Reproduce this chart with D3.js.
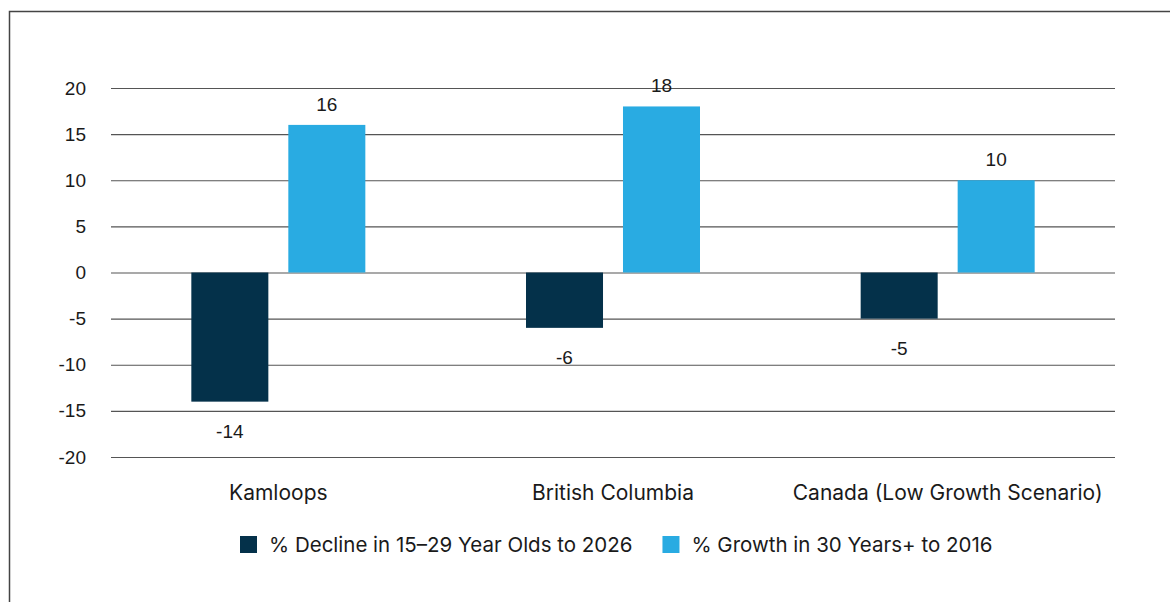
<!DOCTYPE html>
<html>
<head>
<meta charset="utf-8">
<script src="https://cdn.jsdelivr.net/npm/d3@7"></script>
<style>
  body { margin: 0; background: #fff; }
  text { fill: #1a1a1a; }
  .num { font-family: "Liberation Sans", Arial, sans-serif; font-size: 19px; }
  .lbl { font-family: Inter, Roboto, sans-serif; font-size: 20.5px; }
  .cat { font-size: 21px; }
</style>
</head>
<body>
<div id="chart"></div>
<script>
// Data
let categories = ['Kamloops', 'British Columbia', 'Canada (Low Growth Scenario)'];
let seriesNames = ['% Decline in 15\u201329 Year Olds to 2026', '% Growth in 30 Years+ to 2016'];
let declineValues = [-14, -6, -5];
let growthValues = [16, 18, 10];
let yTicks = [-20, -15, -10, -5, 0, 5, 10, 15, 20];

let svgWidth = 1170;
let svgHeight = 602;
let margins = { top: 88, bottom: 145, left: 111, right: 55 };
let chartWidth = svgWidth - margins.left - margins.right;
let chartHeight = svgHeight - margins.top - margins.bottom;
let colors = ['#04314a', '#29abe2'];

let svg = d3.select('#chart').append('svg')
    .attr('width', svgWidth)
    .attr('height', svgHeight);

// Outer frame (right and bottom edges sit outside the picture)
svg.append('rect')
    .attr('x', 9.5).attr('y', 11.5)
    .attr('width', 1170).attr('height', 620)
    .attr('fill', 'none')
    .attr('stroke', '#444')
    .attr('stroke-width', 1.5);

let chart = svg.append('g')
    .attr('transform', `translate(${margins.left}, ${margins.top})`);

// Scales
let xScale = d3.scaleBand().domain(categories).range([0, chartWidth]);
let xInner = d3.scaleBand().domain([0, 1]).range([0, 174]).paddingInner(0.206);
let yScale = d3.scaleLinear().domain([-20, 20]).range([chartHeight, 0]);

// Gridlines + y labels
let yAxis = d3.axisLeft(yScale).tickValues(yTicks).tickSize(-chartWidth).tickPadding(25)
    .tickFormat(d => String(d));
let yG = chart.append('g').call(yAxis);
yG.select('.domain').remove();
yG.attr('font-size', null).attr('font-family', null);
yG.selectAll('.tick line').attr('stroke', '#555').attr('stroke-width', 1.2);
yG.selectAll('.tick text').attr('class', 'num').attr('fill', '#1a1a1a');

// Bars
let rows = categories.map((c, i) => ({ cat: c, vals: [declineValues[i], growthValues[i]] }));
let groups = chart.selectAll('g.grp')
    .data(rows).enter()
    .append('g')
    .attr('class', 'grp')
    .attr('transform', d => `translate(${xScale(d.cat) + xScale.bandwidth() / 2 - 87}, 0)`);

let bars = groups.selectAll('g.bar')
    .data(d => d.vals.map((v, j) => ({ v: v, j: j })))
    .enter().append('g').attr('class', 'bar');

bars.append('rect')
    .attr('x', d => xInner(d.j))
    .attr('width', xInner.bandwidth())
    .attr('y', d => yScale(Math.max(0, d.v)))
    .attr('height', d => Math.abs(yScale(d.v) - yScale(0)))
    .attr('fill', d => colors[d.j]);

bars.append('text')
    .attr('class', 'num')
    .attr('x', d => xInner(d.j) + xInner.bandwidth() / 2)
    .attr('y', d => d.v >= 0 ? yScale(d.v) - 14 : yScale(d.v) + 36)
    .attr('text-anchor', 'middle')
    .text(d => d.v);

// Category labels
chart.append('g').selectAll('text')
    .data(categories).enter()
    .append('text')
    .attr('class', 'lbl cat')
    .attr('x', d => xScale(d) + xScale.bandwidth() / 2)
    .attr('y', 500 - margins.top)
    .attr('text-anchor', 'middle')
    .text(d => d);

// Legend
let legend = svg.append('g');
let lx = 240;
seriesNames.forEach((name, i) => {
    legend.append('rect')
        .attr('x', lx).attr('y', 536)
        .attr('width', 17).attr('height', 17)
        .attr('fill', colors[i]);
    let t = legend.append('text')
        .attr('class', 'lbl')
        .attr('x', lx + 29).attr('y', 552)
        .text(name);
    lx = lx + 29 + t.node().getComputedTextLength() + 30;
});
</script>
</body>
</html>
